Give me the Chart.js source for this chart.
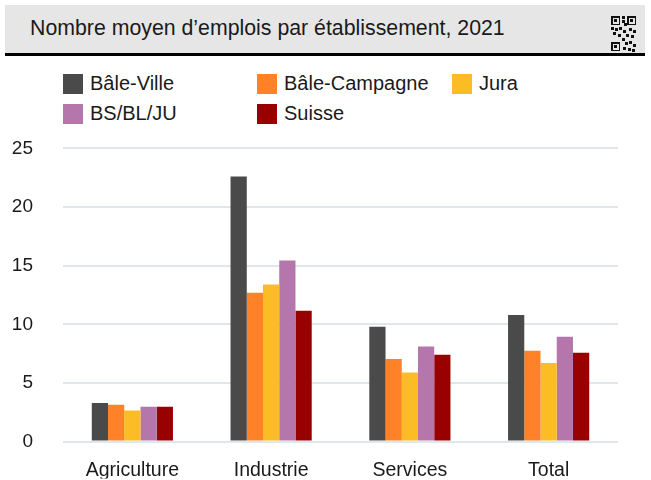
<!DOCTYPE html>
<html>
<head>
<meta charset="utf-8">
<script src="https://cdn.jsdelivr.net/npm/chart.js@4"></script>
<style>
  body { margin: 0; width: 651px; height: 480px; background: #fff; font-family: "Liberation Sans", Arial, sans-serif; color: #1a1a1a; position: relative; overflow: hidden; }
  #header { position: absolute; left: 5px; top: 5px; width: 640px; height: 48px; background: #e6e6e6; border-bottom: 3px solid #000; }
  #header span { position: absolute; left: 25px; top: 11px; font-size: 21.3px; }
  #qr { position: absolute; left: 606px; top: 9px; }
  #legend { position: absolute; left: 63px; top: 72px; width: 560px; }
  .item { position: absolute; display: flex; align-items: center; font-size: 20px; white-space: nowrap; }
  .box { width: 20px; height: 20px; margin-right: 7px; }
  #wrap { position: absolute; left: 0; top: 107px; width: 651px; height: 376px; }
</style>
</head>
<body>
<div id="header"><span>Nombre moyen d’emplois par établissement, 2021</span><canvas id="qr" width="26" height="38"></canvas></div>
<div id="legend"></div>
<div id="wrap"><canvas id="chart"></canvas></div>
<script>
const categories = ["Agriculture", "Industrie", "Services", "Total"];
const seriesNames = ["Bâle-Ville", "Bâle-Campagne", "Jura", "BS/BL/JU", "Suisse"];
const baleVille = [3.3, 22.6, 9.8, 10.8];
const baleCampagne = [3.15, 12.7, 7.05, 7.75];
const jura = [2.65, 13.4, 5.9, 6.7];
const bsBlJu = [2.98, 15.45, 8.1, 8.95];
const suisse = [2.98, 11.15, 7.4, 7.57];
const colors = ["#4a4a4a", "#ff8228", "#fbbc26", "#b577ab", "#990000"];

// petit motif façon QR code
const q = document.getElementById("qr").getContext("2d");
q.fillStyle = "#111";
function finder(x, y) { q.fillRect(x, y, 9, 9); q.clearRect(x + 1.5, y + 1.5, 6, 6); q.fillRect(x + 3, y + 3, 3, 3); }
finder(0, 2); finder(16, 2); finder(0, 28);
[[11,2],[11,6],[13,9],[0,13],[4,14],[8,13],[12,16],[18,14],[22,16],[2,18],[7,20],[15,20],[20,21],[11,24],[14,28],[18,27],[22,30],[12,33],[17,34],[21,35]].forEach(p => q.fillRect(p[0], p[1], 3, 3));

const values = [baleVille, baleCampagne, jura, bsBlJu, suisse];
const chart = new Chart(document.getElementById("chart"), {
  type: "bar",
  data: {
    labels: categories,
    datasets: seriesNames.map((name, i) => ({
      label: name,
      data: values[i],
      backgroundColor: colors[i],
      categoryPercentage: 0.585,
      barPercentage: 1,
    })),
  },
  options: {
    responsive: true,
    maintainAspectRatio: false,
    animation: false,
    layout: { padding: { left: 12, right: 33, top: 0, bottom: 0 } },
    plugins: {
      legend: { display: false },
      tooltip: { enabled: false },
    },
    scales: {
      x: {
        grid: { display: false, drawTicks: false },
        border: { display: false },
        ticks: { color: "#1a1a1a", padding: 17, font: { family: "Liberation Sans", size: 19.5 } },
        afterFit: (s) => { s.height = 37; },
      },
      y: {
        min: 0,
        max: 25,
        ticks: { stepSize: 5, color: "#1a1a1a", padding: 30, font: { family: "Liberation Sans", size: 19 } },
        grid: { color: "#dfe7eb", lineWidth: 2, drawTicks: false },
        border: { display: false },
        afterFit: (s) => { s.width = 51; },
      },
    },
  },
});

// légende sur deux lignes, trois colonnes
const pos = [[0, 0], [194, 0], [389, 0], [0, 30], [194, 30]];
const legend = document.getElementById("legend");
chart.data.datasets.forEach((ds, i) => {
  const el = document.createElement("div");
  el.className = "item";
  el.style.left = pos[i][0] + "px";
  el.style.top = pos[i][1] + "px";
  el.innerHTML = '<div class="box" style="background:' + ds.backgroundColor + '"></div>' + ds.label;
  legend.appendChild(el);
});
</script>
</body>
</html>
